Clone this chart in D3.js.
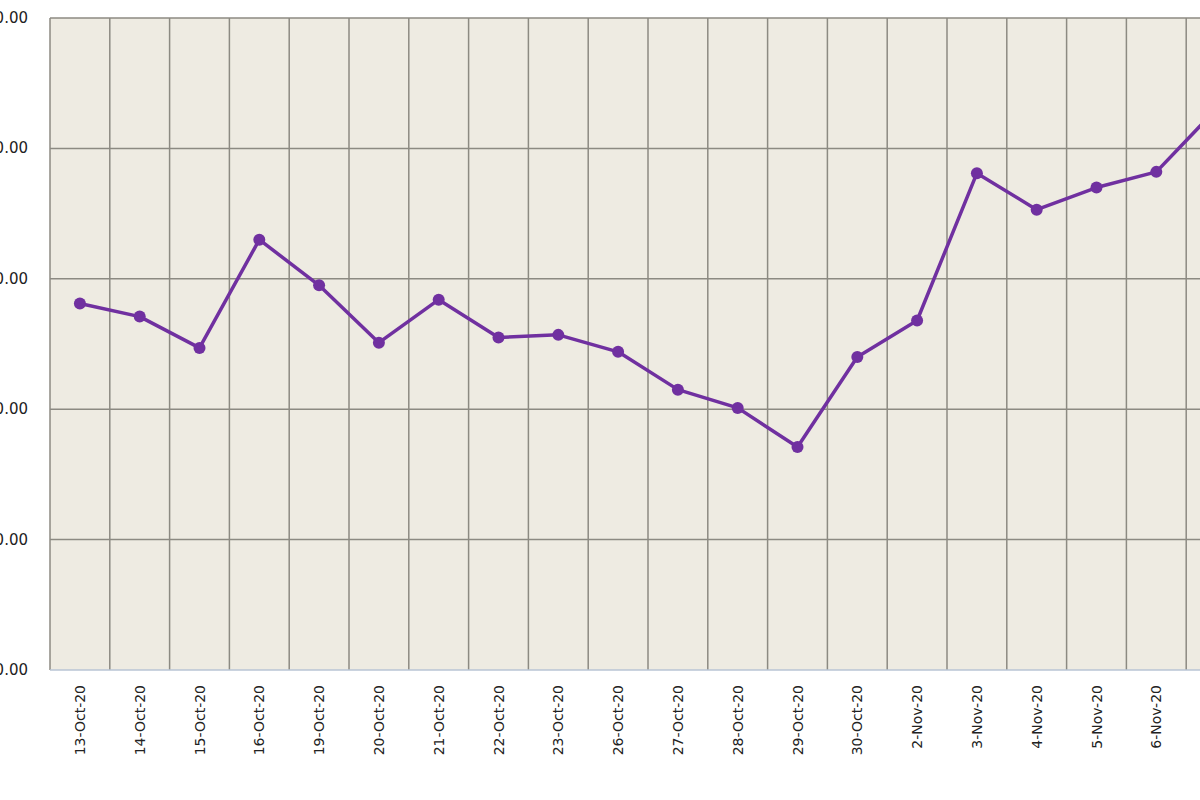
<!DOCTYPE html>
<html><head><meta charset="utf-8">
<script src="https://cdn.jsdelivr.net/npm/d3@7"></script>
<style>html,body{margin:0;padding:0;overflow:hidden;background:#fff}</style>
</head><body><svg id="c" width="1200" height="800"></svg>
<script>
const categories=["13-Oct-20","14-Oct-20","15-Oct-20","16-Oct-20","19-Oct-20","20-Oct-20","21-Oct-20","22-Oct-20","23-Oct-20","26-Oct-20","27-Oct-20","28-Oct-20","29-Oct-20","30-Oct-20","2-Nov-20","3-Nov-20","4-Nov-20","5-Nov-20","6-Nov-20","9-Nov-20"];
const values=[11881,11871,11847,11930,11895,11851,11884,11855,11857,11844,11815,11801,11771,11840,11868,11981,11953,11970,11982,12030];
const yTicks=[11600,11700,11800,11900,12000,12100];
(function(){
const svg=d3.select("#c");
const pLeft=50,pTop=18,pBottom=670,colW=59.8;
const x=d3.scaleBand().domain(categories).range([pLeft,pLeft+colW*categories.length]);
const y=d3.scaleLinear().domain([11600,12100]).range([pBottom,pTop]);
svg.append("rect").attr("x",pLeft).attr("y",pTop).attr("width",colW*categories.length).attr("height",pBottom-pTop).attr("fill","#eeebe2");
const g=svg.append("g");
categories.forEach(c=>{g.append("line").attr("x1",x(c)).attr("x2",x(c)).attr("y1",pTop).attr("y2",pBottom).attr("stroke","#8c8a82").attr("stroke-width",1.5);});
yTicks.forEach(t=>{g.append("line").attr("x1",pLeft).attr("x2",x.range()[1]).attr("y1",y(t)).attr("y2",y(t)).attr("stroke",t===11600?"#b8c4d4":"#8c8a82").attr("stroke-width",1.5);
 svg.append("text").attr("x",28).attr("y",y(t)+5).attr("text-anchor","end").attr("font-family","Verdana, DejaVu Sans, sans-serif").attr("font-size",15).attr("fill","#222").text(d3.format(",.2f")(t));});
categories.forEach(c=>{const cx=x(c)+x.bandwidth()/2;
 svg.append("text").attr("transform",`translate(${cx+5},685) rotate(-90)`).attr("text-anchor","end").attr("font-family","Verdana, DejaVu Sans, sans-serif").attr("font-size",14).attr("fill","#222").text(c);});
const line=d3.line().x((d,i)=>x(categories[i])+x.bandwidth()/2).y(d=>y(d));
svg.append("path").attr("d",line(values)).attr("fill","none").attr("stroke","#7030a0").attr("stroke-width",3.5).attr("stroke-linejoin","round");
svg.selectAll("circle").data(values).join("circle").attr("cx",(d,i)=>x(categories[i])+x.bandwidth()/2).attr("cy",d=>y(d)).attr("r",6).attr("fill","#7030a0");
})();
</script></body></html>
